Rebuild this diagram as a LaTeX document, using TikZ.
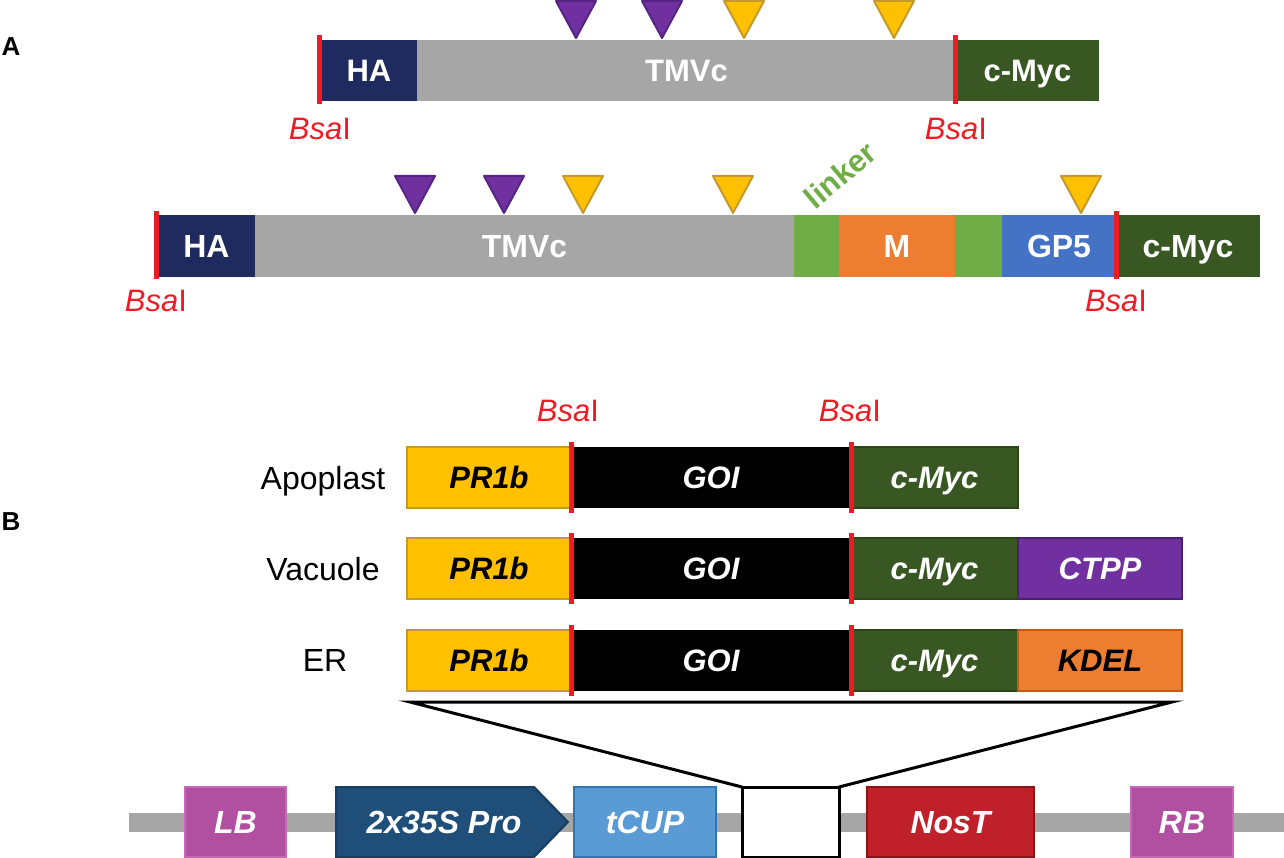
\documentclass[tikz,border=0pt]{standalone}
\usepackage{fontspec}
\setmainfont{Liberation Sans}
\newcommand\fsz[1]{\fontsize{#1}{#1}\selectfont}
\definecolor{bsared}{HTML}{ED1C24}
\definecolor{hablue}{HTML}{1F2A5E}
\definecolor{tmvgray}{HTML}{A6A6A6}
\definecolor{mycgreen}{HTML}{385723}
\definecolor{mycborder}{HTML}{2C4619}
\definecolor{tripurple}{HTML}{7030A0}
\definecolor{tripurpleb}{HTML}{562583}
\definecolor{triyellow}{HTML}{FFC000}
\definecolor{triyellowb}{HTML}{C49A2C}
\definecolor{linkgreen}{HTML}{70AD47}
\definecolor{morange}{HTML}{ED7D31}
\definecolor{morangeb}{HTML}{C55A11}
\definecolor{gpblue}{HTML}{4472C4}
\definecolor{ctppb}{HTML}{4B1F6F}
\definecolor{lbpink}{HTML}{B14FA0}
\definecolor{lbpinkb}{HTML}{C767B7}
\definecolor{probl}{HTML}{1F4E79}
\definecolor{problb}{HTML}{183E60}
\definecolor{tcup}{HTML}{5B9BD5}
\definecolor{tcupb}{HTML}{2E75B6}
\definecolor{nost}{HTML}{C0202A}
\definecolor{nostb}{HTML}{8B1414}
\tikzset{
  capc/.style={text height=#1, text depth=0pt},
  seg/.style={rectangle, inner sep=0pt, outer sep=0pt, capc=22.2pt, text=white, font=\fsz{31}\bfseries},
  seg2/.style={seg, capc=22.9pt, font=\fsz{32}\bfseries},
  bseg/.style={rectangle, inner sep=0pt, outer sep=0pt, capc=22.2pt, line width=1.5pt, minimum height=61pt, text=white, font=\fsz{31}\bfseries\itshape},
  cut/.style={draw=bsared, line width=5pt},
  bsa/.style={text=bsared, font=\fsz{31}, inner sep=0pt, capc=22.2pt},
  ptri/.style={fill=tripurple, draw=tripurpleb, line width=2pt, line join=round},
  ytri/.style={fill=triyellow, draw=triyellowb, line width=2pt, line join=round},
  rowlab/.style={font=\fsz{32}, inner sep=0pt, capc=22.9pt},
  vseg/.style={rectangle, inner sep=0pt, outer sep=0pt, capc=22.9pt, line width=2pt, minimum height=70pt, text=white, font=\fsz{32}\bfseries\itshape},
  panel/.style={font=\fsz{26}\bfseries, inner sep=0pt, capc=18.6pt},
}
\newcommand\tri[3]{\draw[#3] ({#1-20},{#2-37}) -- ({#1+20},{#2-37}) -- (#1,#2) -- cycle;}
\begin{document}
\begin{tikzpicture}[x=1pt,y=-1pt]
\useasboundingbox (0,0) rectangle (1284,858);
% panel labels
\node[panel] (pA) at (11,46) {A};
\node[panel] (pB) at (11,521) {B};

% ---------- Row 1 ----------
\node[seg, fill=hablue, minimum width=96pt, minimum height=61pt] (ha1) at (369,70.5) {HA};
\node[seg, fill=tmvgray, minimum width=539pt, minimum height=61pt] (tmv1) at (686.5,70.5) {TMVc};
\node[seg, fill=mycgreen, minimum width=143pt, minimum height=61pt] (myc1) at (1027.5,70.5) {c-Myc};
\draw[cut] (319,35) -- (319,104);
\draw[cut] (955,35) -- (955,104);
\node[bsa] (b1l) at (320,128) {\itshape Bsa\upshape I};
\node[bsa] (b1r) at (956,128) {\itshape Bsa\upshape I};
\tri{576}{38}{ptri}
\tri{662}{38}{ptri}
\tri{744}{38}{ytri}
\tri{894}{38}{ytri}

% ---------- Row 2 ----------
\node[seg2, fill=hablue, minimum width=97pt, minimum height=62pt] (ha2) at (206.5,246) {HA};
\node[seg2, fill=tmvgray, minimum width=539pt, minimum height=62pt] (tmv2) at (524.5,246) {TMVc};
\node[seg2, fill=linkgreen, minimum width=45pt, minimum height=62pt] (lk1) at (816.5,246) {};
\node[seg2, fill=morange, minimum width=116pt, minimum height=62pt] (m2) at (897,246) {M};
\node[seg2, fill=linkgreen, minimum width=47pt, minimum height=62pt] (lk2) at (978.5,246) {};
\node[seg2, fill=gpblue, minimum width=114pt, minimum height=62pt] (gp5) at (1059,246) {GP5};
\node[seg2, fill=mycgreen, minimum width=144pt, minimum height=62pt] (myc2) at (1188,246) {c-Myc};
\draw[cut] (156.5,211) -- (156.5,279);
\draw[cut] (1116,211) -- (1116,279);
\node[bsa] (b2l) at (156,300) {\itshape Bsa\upshape I};
\node[bsa] (b2r) at (1116,300) {\itshape Bsa\upshape I};
\node[text=linkgreen, font=\fsz{31}\bfseries, rotate=40, inner sep=0pt] (linker) at (840,175) {linker};
\tri{415}{213}{ptri}
\tri{504}{213}{ptri}
\tri{583}{213}{ytri}
\tri{733}{213}{ytri}
\tri{1081}{213}{ytri}

% ---------- Section B ----------
\node[bsa] (b3l) at (568,410) {\itshape Bsa\upshape I};
\node[bsa] (b3r) at (850,410) {\itshape Bsa\upshape I};

% Apoplast
\node[rowlab] (lapo) at (323,478) {Apoplast};
\node[bseg, fill=triyellow, draw=triyellowb, text=black, minimum width=164pt] (pr1) at (489,477.5) {PR1b};
\node[bseg, fill=black, minimum width=280pt] (goi1) at (711,477.5) {GOI};
\node[bseg, fill=mycgreen, draw=mycborder, minimum width=167pt] (mycb1) at (934.5,477.5) {c-Myc};
\draw[cut] (571,442) -- (571,513);
\draw[cut] (851,442) -- (851,513);

% Vacuole
\node[rowlab] (lvac) at (323,569) {Vacuole};
\node[bseg, fill=triyellow, draw=triyellowb, text=black, minimum width=164pt] (pr2) at (489,568.5) {PR1b};
\node[bseg, fill=black, minimum width=280pt] (goi2) at (711,568.5) {GOI};
\node[bseg, fill=mycgreen, draw=mycborder, minimum width=167pt] (mycb2) at (934.5,568.5) {c-Myc};
\node[bseg, fill=tripurple, draw=ctppb, minimum width=164pt] (ctpp) at (1100,568.5) {CTPP};
\draw[cut] (571,533) -- (571,604);
\draw[cut] (851,533) -- (851,604);

% ER
\node[rowlab] (ler) at (325,660) {ER};
\node[bseg, fill=triyellow, draw=triyellowb, text=black, minimum width=164pt] (pr3) at (489,660.5) {PR1b};
\node[bseg, fill=black, minimum width=280pt] (goi3) at (711,660.5) {GOI};
\node[bseg, fill=mycgreen, draw=mycborder, minimum width=167pt] (mycb3) at (934.5,660.5) {c-Myc};
\node[bseg, fill=morange, draw=morangeb, text=black, minimum width=164pt] (kdel) at (1100,660.5) {KDEL};
\draw[cut] (571,625) -- (571,696);
\draw[cut] (851,625) -- (851,696);

% ---------- Backbone ----------
\fill[tmvgray] (129,813) rectangle (1284,832);
\node[vseg, fill=lbpink, draw=lbpinkb, minimum width=101pt] (lb) at (235.5,822) {LB};
\draw[fill=probl, draw=problb, line width=2pt, line join=miter] (336,787) -- (534,787) -- (568,822) -- (534,857) -- (336,857) -- cycle;
\node[text=white, font=\fsz{32}\bfseries\itshape, inner sep=0pt, capc=22.9pt] (pro) at (444,822) {2x35S Pro};
\node[vseg, fill=tcup, draw=tcupb, minimum width=142pt] (tcupn) at (645,822) {tCUP};
\node[vseg, fill=white, draw=black, line width=3pt, minimum width=97pt] (ins) at (790.5,822) {};
\node[vseg, fill=nost, draw=nostb, minimum width=167pt] (nosn) at (950.5,822) {NosT};
\node[vseg, fill=lbpink, draw=lbpinkb, minimum width=102pt] (rb) at (1182,822) {RB};

% funnel
\coordinate (fl) at (410,702);
\coordinate (fr) at (1172,702);
\draw[line width=3pt, line join=miter] (ins.north west) -- (fl) -- (fr) -- (ins.north east);
\end{tikzpicture}
\end{document}
